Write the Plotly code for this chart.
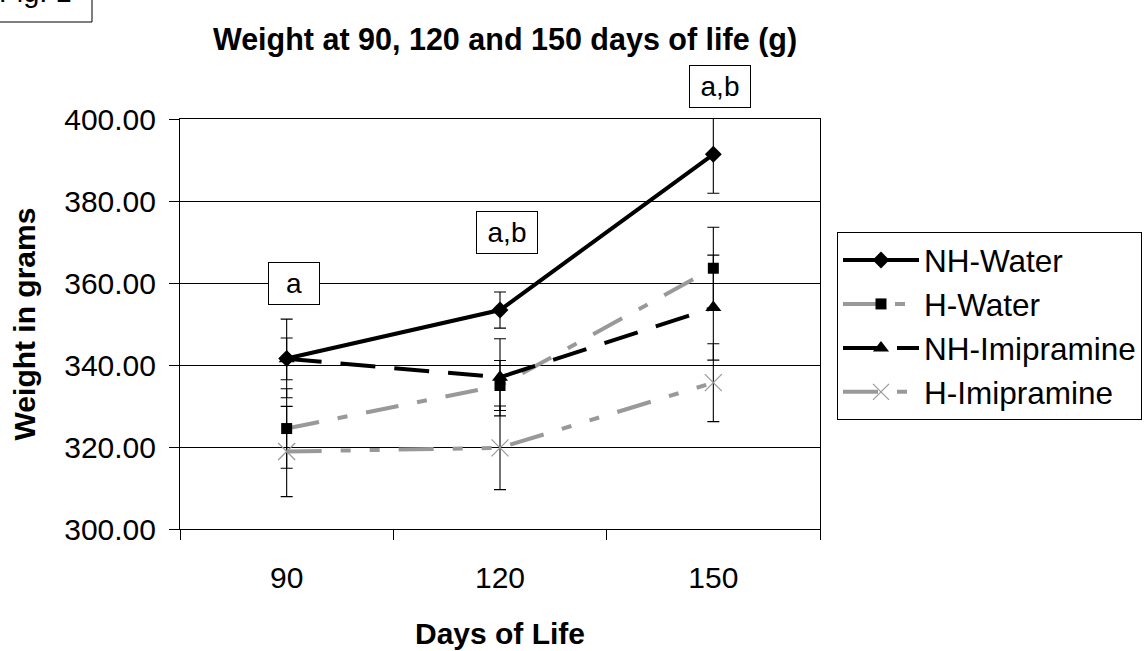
import plotly.graph_objects as go

days = ["90", "120", "150"]
series_names = ["NH-Water", "H-Water", "NH-Imipramine", "H-Imipramine"]
nh_water = [341.6, 353.4, 391.4]
nh_water_err = [9.6, 4.4, 9.5]
h_water = [324.5, 335.0, 363.6]
h_water_err = [9.7, 6.1, 10.0]
nh_imip = [341.5, 337.0, 354.0]
nh_imip_err = [5.1, 9.4, 12.8]
h_imip = [318.9, 319.8, 335.7]
h_imip_err = [11.0, 10.2, 9.5]
sig_labels = ["a", "a,b", "a,b"]
sig_y = [360.0, 372.2, 407.9]

Y_MIN, Y_MAX = 300, 400

FONT = "Liberation Sans, Arial, sans-serif"
GRAY = "#999999"

W, H = 1148, 651
L, R, T, B = 180, 328, 119, 122
PW, PH = W - L - R, H - T - B

def px_x(p):
    return (p - L) / PW

def px_y(p):
    return 1 + (T - p) / PH

styles = [
    dict(data=nh_water, err=nh_water_err, color="black", dash="solid",
         marker=dict(symbol="diamond", size=13, color="black")),
    dict(data=h_water, err=h_water_err, color=GRAY, dash="33px,19px,10px,19px",
         marker=dict(symbol="square", size=11, color="black")),
    dict(data=nh_imip, err=nh_imip_err, color="black", dash="35px,19px",
         marker=dict(symbol="triangle-up", size=14, color="black")),
    dict(data=h_imip, err=h_imip_err, color=GRAY, dash="35px,19px,10px,19px,10px,19px",
         marker=dict(symbol="x-thin-open", size=17, color=GRAY,
                     line=dict(color=GRAY, width=1.2))),
]

fig = go.Figure()
for i, (name, st) in enumerate(zip(series_names, styles)):
    fig.add_trace(go.Scatter(
        x=days, y=st["data"], name=name, mode="lines+markers",
        legendgroup=name,
        line=dict(color=st["color"], width=4, dash=st["dash"]),
        marker=st["marker"],
        error_y=dict(type="data", array=st["err"], visible=True,
                     color="black", thickness=1.1, width=6),
    ))

annotations = []
for i, (lab, yv) in enumerate(zip(sig_labels, sig_y)):
    annotations.append(dict(
        x=i, y=(yv - Y_MIN) / (Y_MAX - Y_MIN), xref="x", yref="paper",
        xanchor="center", yanchor="middle",
        text=lab, showarrow=False, xshift=7,
        width=40 if len(lab) == 1 else 50, height=31, align="center",
        font=dict(family=FONT, size=28, color="black"),
        bgcolor="white", bordercolor="black", borderwidth=1, borderpad=5,
    ))
annotations.append(dict(
    x=px_x(-3), y=px_y(10), xref="paper", yref="paper", text="Fig. 1",
    showarrow=False, xanchor="left", yanchor="bottom",
    font=dict(family=FONT, size=29, color="black"),
))

fig.update_layout(
    width=W, height=H,
    margin=dict(l=L, r=R, t=T, b=B, autoexpand=False),
    paper_bgcolor="white", plot_bgcolor="white",
    font=dict(family=FONT, color="black", size=29),
    title=dict(text="Weight at 90, 120 and 150 days of life (g)",
               x=px_x(505), xref="paper", xanchor="center",
               y=1 - 39 / H, yref="container", yanchor="middle",
               font=dict(family=FONT, size=30.5, weight="bold", color="black")),
    showlegend=True,
    legend=dict(x=px_x(837), y=px_y(232), xanchor="left", yanchor="top",
                bordercolor="black", borderwidth=1, bgcolor="white",
                font=dict(family=FONT, size=31.5, color="black"),
                itemwidth=76, tracegroupgap=6, traceorder="normal"),
    annotations=annotations,
    shapes=[dict(type="rect", xref="paper", yref="paper",
                 x0=px_x(-10), x1=px_x(92), y0=px_y(22), y1=px_y(-20),
                 line=dict(color="black", width=1), fillcolor="rgba(0,0,0,0)")],
)

fig.update_xaxes(
    type="category", range=[-0.5, 2.5], showgrid=False,
    showline=True, linecolor="black", linewidth=1, mirror=True,
    ticks="outside", tickson="boundaries", ticklen=10, tickcolor="black",
    ticklabelstandoff=22,
    tickfont=dict(family=FONT, size=30, color="black"),
    title=dict(text="Days of Life", standoff=29,
               font=dict(family=FONT, size=30, weight="bold", color="black")),
)
fig.update_yaxes(
    range=[Y_MIN, Y_MAX], dtick=20, tickformat=".2f",
    showgrid=True, gridcolor="black", gridwidth=1,
    showline=True, linecolor="black", linewidth=1, mirror=True,
    ticks="outside", ticklen=10, tickcolor="black",
    ticklabelstandoff=7,
    tickfont=dict(family=FONT, size=30, color="black"),
    zeroline=False,
    title=dict(text="Weight in grams", standoff=19,
               font=dict(family=FONT, size=30, weight="bold", color="black")),
)

fig.write_html("out.html")
